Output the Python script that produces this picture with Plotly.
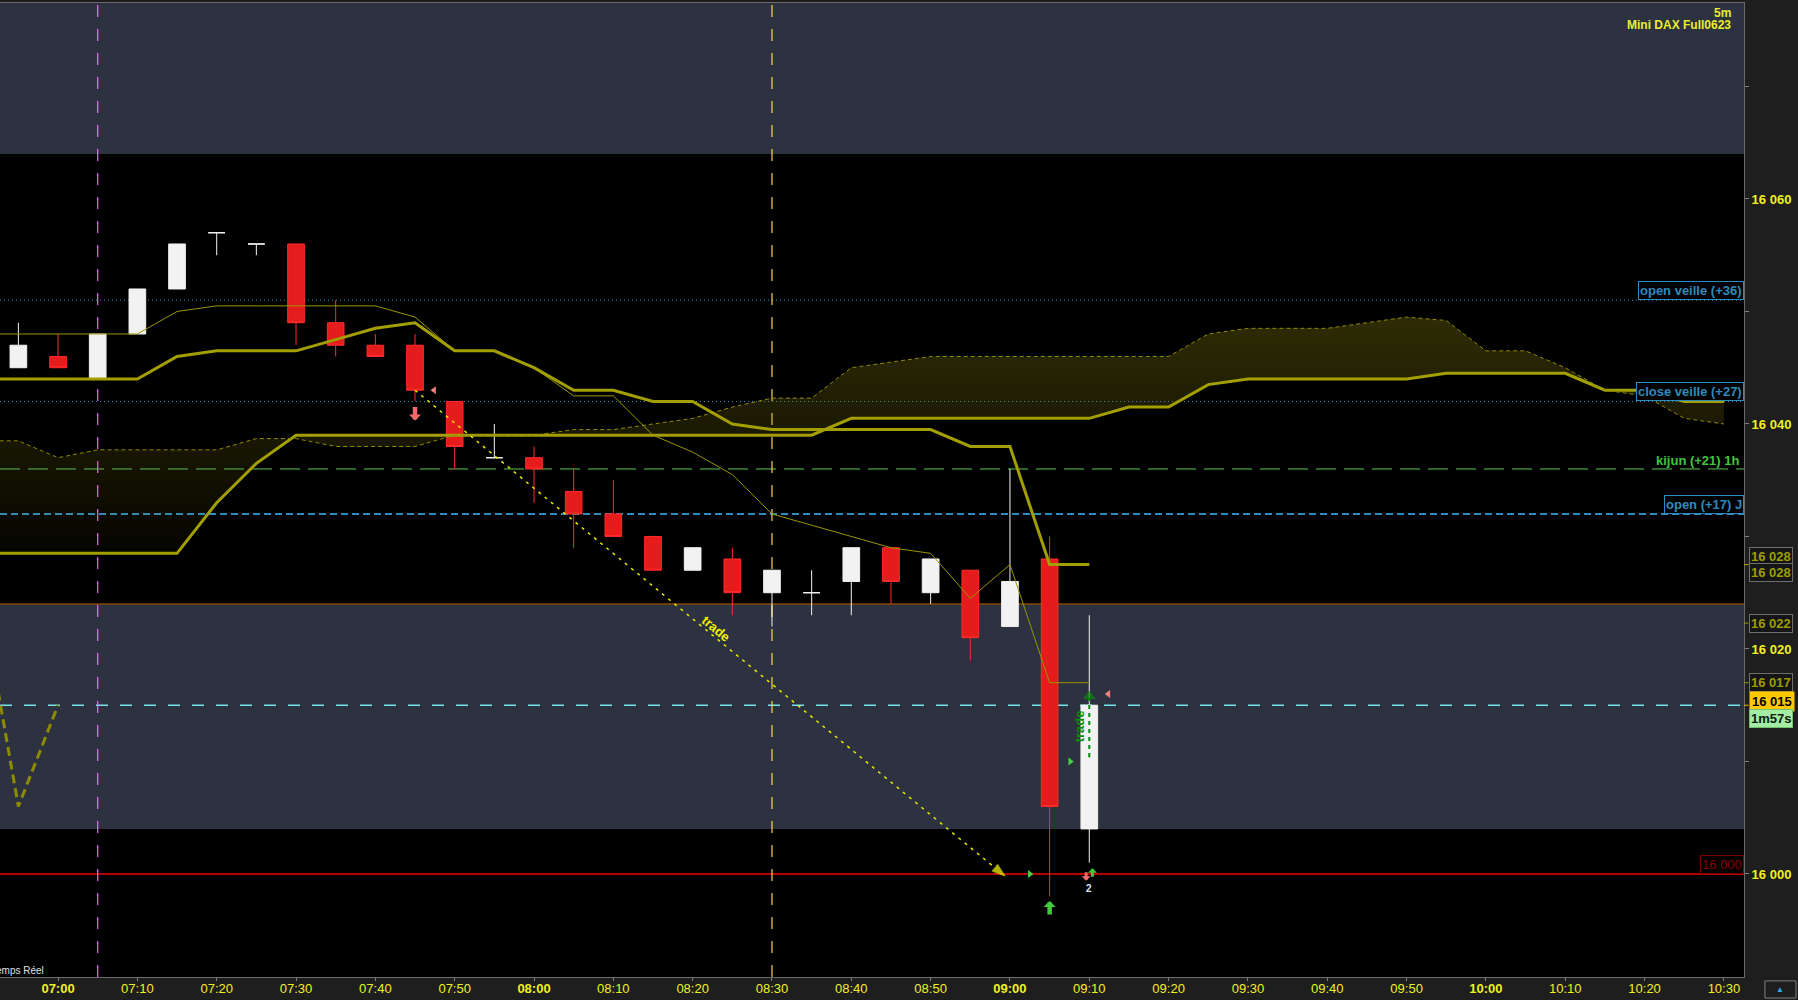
import pandas as pd
import plotly.graph_objects as go

DAY = "2023-05-12"
FONT = "Liberation Sans, Arial, sans-serif"

# ---------------- data ----------------
candle_times = ["06:55", "07:00", "07:05", "07:10", "07:15", "07:20", "07:25", "07:30", "07:35", "07:40",
                "07:45", "07:50", "07:55", "08:00", "08:05", "08:10", "08:15", "08:20", "08:25", "08:30",
                "08:35", "08:40", "08:45", "08:50", "08:55", "09:00", "09:05", "09:10"]
opens = [16045, 16046, 16044, 16048, 16052, 16057, 16056, 16056, 16049, 16047,
         16047, 16042, 16037, 16037, 16034, 16032, 16030, 16027, 16028, 16025,
         16025, 16026, 16029, 16025, 16027, 16022, 16028, 16004]
highs = [16049, 16048, 16048, 16052, 16056, 16057, 16056, 16056, 16051, 16048,
         16048, 16042, 16040, 16038, 16036, 16035, 16030, 16029, 16029, 16027,
         16027, 16029, 16029, 16028, 16027, 16036, 16030, 16023]
lows = [16045, 16045, 16044, 16048, 16052, 16055, 16055, 16047, 16046, 16046,
        16042, 16036, 16037, 16033, 16029, 16030, 16027, 16027, 16023, 16022,
        16023, 16023, 16024, 16024, 16019, 16022, 15998, 16001]
closes = [16047, 16045, 16048, 16052, 16056, 16057, 16056, 16049, 16047, 16046,
          16043, 16038, 16037, 16036, 16032, 16030, 16027, 16029, 16025, 16027,
          16025, 16029, 16026, 16028, 16021, 16026, 16006, 16015]

ind_times = ["06:50", "06:55", "07:00", "07:05", "07:10", "07:15", "07:20", "07:25", "07:30", "07:35",
             "07:40", "07:45", "07:50", "07:55", "08:00", "08:05", "08:10", "08:15", "08:20", "08:25",
             "08:30", "08:35", "08:40", "08:45", "08:50", "08:55", "09:00", "09:05", "09:10"]
tenkan = [16048, 16048, 16048, 16048, 16048, 16050, 16050.5, 16050.5, 16050.5, 16050.5,
          16050.5, 16049.5, 16046.5, 16046.5, 16045, 16042.5, 16042.5, 16039, 16037.5, 16035.5,
          16032, 16031, 16030, 16029, 16028.5, 16024.5, 16027.5, 16017, 16017]
kijun = [16044, 16044, 16044, 16044, 16044, 16046, 16046.5, 16046.5, 16046.5, 16047.5,
         16048.5, 16049, 16046.5, 16046.5, 16045, 16043, 16043, 16042, 16042, 16040,
         16039.5, 16039.5, 16039.5, 16039.5, 16039.5, 16038, 16038, 16027.5, 16027.5]

chikou_times = ["06:50", "06:55", "07:00"]
chikou = [16026, 16006, 16015]

cloud_times = ["06:50", "06:55", "07:00", "07:05", "07:10", "07:15", "07:20", "07:25", "07:30", "07:35",
               "07:40", "07:45", "07:50", "07:55", "08:00", "08:05", "08:10", "08:15", "08:20", "08:25",
               "08:30", "08:35", "08:40", "08:45", "08:50", "08:55", "09:00", "09:05", "09:10", "09:15",
               "09:20", "09:25", "09:30", "09:35", "09:40", "09:45", "09:50", "09:55", "10:00", "10:05",
               "10:10", "10:15", "10:20", "10:25", "10:30"]
span_a = [16028.5, 16028.5, 16028.5, 16028.5, 16028.5, 16028.5, 16033, 16036.5, 16039, 16039,
          16039, 16039, 16039, 16039, 16039, 16039, 16039, 16039, 16039, 16039,
          16039, 16039, 16040.5, 16040.5, 16040.5, 16040.5, 16040.5, 16040.5, 16040.5, 16041.5,
          16041.5, 16043.5, 16044, 16044, 16044, 16044, 16044, 16044.5, 16044.5, 16044.5,
          16044.5, 16043, 16043, 16042, 16042]
span_b = [16038.5, 16038.5, 16037, 16037.7, 16037.7, 16037.7, 16037.7, 16038.7, 16038.7, 16038,
          16038, 16038, 16039, 16039, 16039, 16039.5, 16039.5, 16040, 16040.5, 16041.5,
          16042.3, 16042.3, 16045, 16045.5, 16046, 16046, 16046, 16046, 16046, 16046,
          16046, 16048, 16048.5, 16048.5, 16048.5, 16049, 16049.5, 16049.2, 16046.5, 16046.5,
          16045, 16043, 16042.5, 16040.5, 16040]

level_names = ["open veille (+36)", "close veille (+27)", "kijun (+21) 1h", "open (+17) J"]
level_values = [16051, 16042, 16036, 16032]
current_price = 16015
timer_text = "1m57s"
round_level = 16000
band_top = [16064, 16100]
band_mid = [16004, 16024]

tag_texts = ["16 028", "16 028", "16 022", "16 017"]
tag_values = [16027.5, 16027.5, 16022.3, 16017]

vline_times = ["07:05", "08:30"]

trade1_times = ["07:45", "08:59:24"]
trade1_prices = [16043, 15999.8]
trade1_label = ("08:22:54", 16021.8)
trade2_times = ["09:10", "09:10"]
trade2_prices = [16010.4, 16015.8]
trade2_label = ("09:08:48", 16013.1)

arrow_down_red = [("07:45", 16040.3), ("09:09:36", 15999.4)]
arrow_up_green = [("09:05", 15997.6), ("09:10:24", 16000.5)]
tri_right_times = ["09:02:30", "09:07:36"]
tri_right_prices = [16000, 16010]
tri_left_times = ["07:47:24", "09:12:24"]
tri_left_prices = [16043, 16016]
count_label = ("09:10", 15998.7, "2")

x_ticks = ["07:00", "07:10", "07:20", "07:30", "07:40", "07:50", "08:00", "08:10", "08:20", "08:30",
           "08:40", "08:50", "09:00", "09:10", "09:20", "09:30", "09:40", "09:50", "10:00", "10:10",
           "10:20", "10:30"]
y_ticks = [16000, 16020, 16040, 16060]
y_ticktext = ["16 000", "16 020", "16 040", "16 060"]
y_minor = [16010, 16030, 16050, 16070]

x_range = ["06:52:41", "10:32:32"]
y_range = [15990.84, 16077.42]
title_lines = ["5m", "Mini DAX Full0623"]


def T(t):
    return pd.Timestamp(f"{DAY} {t}")


# ---------------- figure ----------------
fig = go.Figure()

# Ichimoku cloud
fig.add_trace(go.Scatter(x=[T(t) for t in cloud_times], y=span_a, mode="lines",
                         line=dict(color="#a39f00", width=3), hoverinfo="skip"))
fig.add_trace(go.Scatter(x=[T(t) for t in cloud_times], y=span_b, mode="lines",
                         line=dict(color="#8e8a00", width=1, dash="4px,3px"),
                         fill="tonexty",
                         fillgradient=dict(type="vertical",
                                           colorscale=[[0, "rgba(125,118,12,0.0)"],
                                                       [1, "rgba(125,118,12,0.38)"]],
                                           start=16026, stop=16050),
                         hoverinfo="skip"))

# candles (white = up / doji, red = down)
up = [i for i in range(len(opens)) if closes[i] >= opens[i]]
dn = [i for i in range(len(opens)) if closes[i] < opens[i]]
white = dict(line=dict(color="#f2f2f2", width=1), fillcolor="#f2f2f2")
red = dict(line=dict(color="#ff2b2b", width=1), fillcolor="#e41c1c")
fig.add_trace(go.Candlestick(x=[T(candle_times[i]) for i in up],
                             open=[opens[i] for i in up], high=[highs[i] for i in up],
                             low=[lows[i] for i in up], close=[closes[i] for i in up],
                             increasing=white, decreasing=white, whiskerwidth=0))
fig.add_trace(go.Candlestick(x=[T(candle_times[i]) for i in dn],
                             open=[opens[i] for i in dn], high=[highs[i] for i in dn],
                             low=[lows[i] for i in dn], close=[closes[i] for i in dn],
                             increasing=red, decreasing=red, whiskerwidth=0))

# tenkan / kijun / chikou
fig.add_trace(go.Scatter(x=[T(t) for t in ind_times], y=tenkan, mode="lines",
                         line=dict(color="#9a9500", width=1), hoverinfo="skip"))
fig.add_trace(go.Scatter(x=[T(t) for t in ind_times], y=kijun, mode="lines",
                         line=dict(color="#a39f00", width=3), hoverinfo="skip"))
fig.add_trace(go.Scatter(x=[T(t) for t in chikou_times], y=chikou, mode="lines",
                         line=dict(color="#8f8b00", width=3, dash="9px,5px"), hoverinfo="skip"))

# trades
fig.add_trace(go.Scatter(x=[T(t) for t in trade1_times], y=trade1_prices, mode="lines+markers",
                         line=dict(color="#e8e800", width=1.5, dash="3px,5px"),
                         marker=dict(symbol=["circle", "arrow"], size=[1, 14], angleref="previous",
                                     color=["rgba(0,0,0,0)", "#ffff00"]),
                         hoverinfo="skip"))
fig.add_trace(go.Scatter(x=[T(t) for t in trade2_times], y=trade2_prices, mode="lines+markers",
                         line=dict(color="#0b8a0b", width=2, dash="4px,4px"),
                         marker=dict(symbol=["circle", "triangle-up"], size=[1, 10],
                                     color=["rgba(0,0,0,0)", "#0b8a0b"]),
                         hoverinfo="skip"))
fig.add_trace(go.Scatter(x=[T(t) for t in tri_right_times], y=tri_right_prices, mode="markers",
                         marker=dict(symbol="triangle-right", size=7, color="#44d444"), hoverinfo="skip"))
fig.add_trace(go.Scatter(x=[T(t) for t in tri_left_times], y=tri_left_prices, mode="markers",
                         marker=dict(symbol="triangle-left", size=7, color="#f08080"), hoverinfo="skip"))

# ---------------- shapes ----------------
shapes = []
shapes.append(dict(type="rect", xref="paper", x0=0, x1=1, yref="y", y0=band_top[0], y1=band_top[1],
                   fillcolor="#2d3240", line=dict(width=0), layer="below"))
shapes.append(dict(type="rect", xref="paper", x0=0, x1=1, yref="y", y0=band_mid[0], y1=band_mid[1],
                   fillcolor="#2d3240", line=dict(width=0), layer="below"))
shapes.append(dict(type="line", xref="paper", x0=0, x1=1, yref="y", y0=band_mid[1], y1=band_mid[1],
                   line=dict(color="#8a4800", width=1.5), layer="below"))
level_styles = [dict(color="#3a8fc0", width=1, dash="1px,3px"),
                dict(color="#3a8fc0", width=1, dash="1px,3px"),
                dict(color="#56c856", width=1, dash="20px,8px"),
                dict(color="#2f8cc0", width=2, dash="7px,4px")]
for v, st in zip(level_values, level_styles):
    shapes.append(dict(type="line", xref="paper", x0=0, x1=1, yref="y", y0=v, y1=v,
                       line=st, layer="below"))
shapes.append(dict(type="line", xref="paper", x0=0, x1=1, yref="y", y0=current_price, y1=current_price,
                   line=dict(color="#78e4ee", width=1.5, dash="12px,12px"), layer="below"))
shapes.append(dict(type="line", xref="paper", x0=0, x1=1, yref="y", y0=round_level, y1=round_level,
                   line=dict(color="#b40000", width=2), layer="below"))
for t, c in zip(vline_times, ["#ff66ff", "#ffd24a"]):
    shapes.append(dict(type="line", xref="x", x0=T(t), x1=T(t), yref="paper", y0=0, y1=1,
                       line=dict(color=c, width=1.2, dash="12px,12px"), layer="below"))
# small ticks on the price axis for the tags
for v in tag_values:
    shapes.append(dict(type="line", xref="paper", x0=1, x1=1.0026, yref="y", y0=v, y1=v,
                       line=dict(color="#9c9c00", width=1)))
shapes.append(dict(type="line", xref="paper", x0=1, x1=1.0026, yref="y", y0=current_price, y1=current_price,
                   line=dict(color="#e0c000", width=1)))
# corner icon frame
shapes.append(dict(type="rect", xref="paper", x0=1.012, x1=1.0298, yref="paper", y0=-0.0216, y1=-0.004,
                   line=dict(color="#808080", width=1)))

# ---------------- annotations ----------------
ann = []
for name, v in zip(level_names, level_values):
    if name.startswith("kijun"):
        ann.append(dict(xref="paper", x=0.998, xanchor="right", yref="y", y=v, yanchor="bottom", yshift=-1,
                        text=f"<b>{name}</b>", showarrow=False,
                        font=dict(color="#3ec63e", size=13, family=FONT)))
    else:
        ann.append(dict(xref="paper", x=1, xanchor="right", yref="y", y=v, yanchor="bottom",
                        text=f"<b>{name}</b>", showarrow=False, bordercolor="#2d8bbd", bgcolor="#000000",
                        borderwidth=1, borderpad=1,
                        font=dict(color="#2d8bbd", size=13, family=FONT)))
ann.append(dict(xref="paper", x=1, xanchor="right", yref="y", y=round_level, yanchor="bottom",
                text="16 000", showarrow=False, bordercolor="#7a0000", bgcolor="#000000",
                borderwidth=1, borderpad=1,
                font=dict(color="#8c0000", size=13, family=FONT)))
shifts = [8, -8, 0, 0]
for txt, v, s in zip(tag_texts, tag_values, shifts):
    ann.append(dict(xref="paper", x=1.0029, xanchor="left", yref="y", y=v, yanchor="middle", yshift=s,
                    text=f"<b>{txt}</b>", showarrow=False, bgcolor="#151515", bordercolor="#6e6e6e",
                    borderwidth=1, borderpad=1, font=dict(color="#9c9c00", size=13, family=FONT)))
ann.append(dict(xref="paper", x=1.0029, xanchor="left", yref="y", y=current_price, yanchor="middle",
                yshift=4, text="<b>16 015</b>", showarrow=False, bgcolor="#ffc800",
                borderpad=2, font=dict(color="#000000", size=13, family=FONT)))
ann.append(dict(xref="paper", x=1.0029, xanchor="left", yref="y", y=current_price, yanchor="middle",
                yshift=-13, text=f"<b>{timer_text}</b>", showarrow=False, bgcolor="#a4eca4",
                bordercolor="#70c070", borderwidth=1, borderpad=1,
                font=dict(color="#0c200c", size=13, family=FONT)))
# trade labels
ann.append(dict(x=T(trade1_label[0]), y=trade1_label[1], text="<b>trade</b>", showarrow=False,
                textangle=39.6, font=dict(color="#f0f000", size=13, family=FONT)))
ann.append(dict(x=T(trade2_label[0]), y=trade2_label[1], text="<b>trade</b>", showarrow=False,
                textangle=-90, font=dict(color="#0c8c0c", size=13, family=FONT)))
# arrows
for i, (t, p) in enumerate(arrow_down_red):
    big = i == 0
    ann.append(dict(x=T(t), y=p, ax=0, ay=-15 if big else -10, text="", showarrow=True,
                    arrowhead=1, arrowsize=0.45 if big else 0.5, arrowwidth=4.5 if big else 3,
                    arrowcolor="#f06a6a"))
for i, (t, p) in enumerate(arrow_up_green):
    big = i == 0
    ann.append(dict(x=T(t), y=p, ax=0, ay=15 if big else 10, text="", showarrow=True,
                    arrowhead=1, arrowsize=0.45 if big else 0.5, arrowwidth=4.5 if big else 3,
                    arrowcolor="#3ccc3c"))
ann.append(dict(x=T(count_label[0]), y=count_label[1], text=f"<b>{count_label[2]}</b>", showarrow=False,
                font=dict(color="#d8e6ff", size=10, family=FONT)))
# title + footer
ann.append(dict(xref="paper", yref="paper", x=0.9937, y=0.990, xanchor="right", yanchor="middle",
                text=f"<b>{title_lines[0]}</b>", showarrow=False,
                font=dict(color="#ecec30", size=12, family=FONT)))
ann.append(dict(xref="paper", yref="paper", x=0.9937, y=0.9774, xanchor="right", yanchor="middle",
                text=f"<b>{title_lines[1]}</b>", showarrow=False,
                font=dict(color="#ecec30", size=12, family=FONT)))
ann.append(dict(xref="paper", yref="paper", x=0.0264, y=0.0062, xanchor="right", yanchor="middle",
                text="Temps Réel", showarrow=False, font=dict(color="#e0e0e0", size=10, family=FONT)))
# corner icon glyph
ann.append(dict(xref="paper", yref="paper", x=1.0209, y=-0.0128, xanchor="center", yanchor="middle",
                text="▲", showarrow=False, font=dict(color="#2aa8f0", size=8, family=FONT)))

fig.update_layout(
    width=1798, height=1000,
    margin=dict(l=0, r=54, t=3, b=23),
    paper_bgcolor="#1e1e1e", plot_bgcolor="#000000",
    showlegend=False, hovermode=False,
    boxgap=0.4, boxgroupgap=0.3,
    font=dict(family=FONT),
    shapes=shapes, annotations=ann,
    xaxis=dict(type="date", range=[T(x_range[0]), T(x_range[1])], showgrid=False, zeroline=False,
               tickmode="array", tickvals=[T(t) for t in x_ticks],
               ticktext=[f"<b>{t}</b>" if t.endswith(":00") else t for t in x_ticks],
               ticks="outside", ticklen=3, tickcolor="#808080", ticklabelstandoff=-4,
               tickfont=dict(color="#f0f020", size=13, family=FONT),
               showline=True, linecolor="#6a6a6a", mirror=True,
               rangeslider=dict(visible=False)),
    yaxis=dict(side="right", range=y_range, showgrid=False, zeroline=False,
               tickmode="array", tickvals=y_ticks, ticktext=[f"<b>{t}</b>" for t in y_ticktext],
               ticks="outside", ticklen=4, tickcolor="#808080",
               tickfont=dict(color="#f0f020", size=13, family=FONT),
               showline=True, linecolor="#6a6a6a",
               minor=dict(tickmode="array", tickvals=y_minor, ticks="outside", ticklen=4,
                          tickcolor="#808080")),
)

fig.write_html("out.html", config={"displayModeBar": False},
               post_script="document.body.style.margin='0';document.body.style.overflow='hidden';")
